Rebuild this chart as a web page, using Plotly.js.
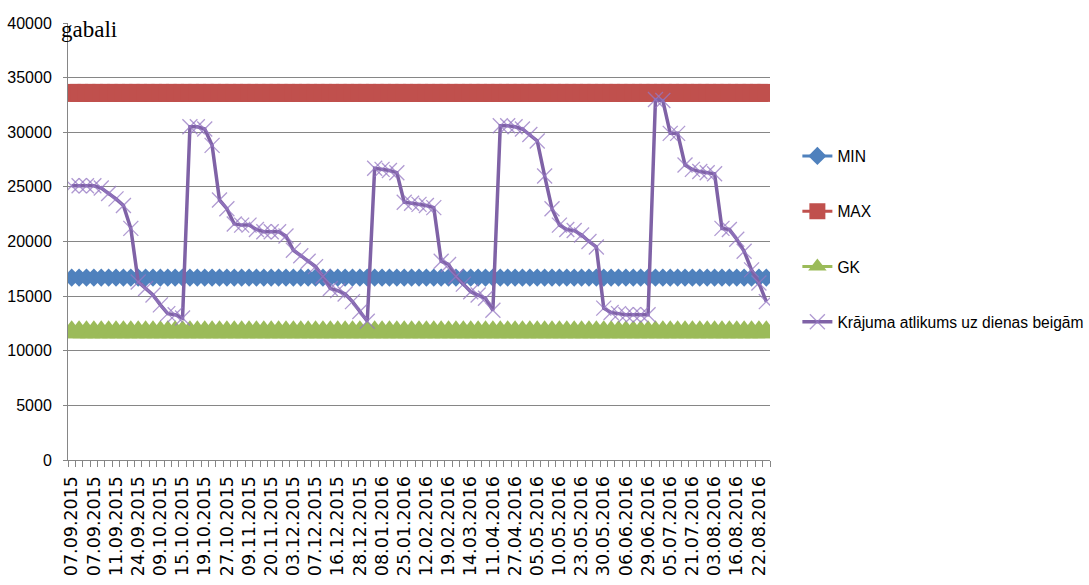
<!DOCTYPE html>
<html>
<head>
<meta charset="utf-8">
<script src="https://cdn.plot.ly/plotly-3.0.1.min.js"></script>
<style>
html,body{margin:0;padding:0;background:#fff;}
#chart{width:1089px;height:585px;}
</style>
</head>
<body>
<div id="chart"></div>
<script>
// Tick labels (every third category is labelled)
const tickLabels = [
  "07.09.2015","07.09.2015","11.09.2015","24.09.2015","09.10.2015","15.10.2015",
  "19.10.2015","27.10.2015","09.11.2015","20.11.2015","03.12.2015","07.12.2015",
  "16.12.2015","28.12.2015","08.01.2016","25.01.2016","12.02.2016","19.02.2016",
  "14.03.2016","11.04.2016","27.04.2016","05.05.2016","10.05.2016","23.05.2016",
  "30.05.2016","06.06.2016","29.06.2016","05.07.2016","21.07.2016","03.08.2016",
  "16.08.2016","22.08.2016"
];
const labelStep = 3;

// Stock at end of day (Krājuma atlikums uz dienas beigām)
const stock = [
  25100,25100,25100,25100,24900, 24400,23900,23300,21200,16300,
  15700,15100,14200,13400,13300, 13000,30500,30500,30300,28800,
  23800,23000,21600,21500,21500, 21100,20900,20900,20900,20500,
  19200,18700,18200,17700,16800, 15700,15500,15200,14500,13600,
  12700,26700,26600,26500,26300, 23600,23500,23400,23300,23100,
  18200,17900,16800,16100,15400, 15100,14800,13700,30600,30600,
  30500,30300,29800,29200,26000, 23000,21500,21100,21000,20600,
  20000,19500,13900,13500,13400, 13300,13300,13300,13300,33000,
  32900,29900,29900,27000,26600, 26400,26300,26200,21200,21100,
  20200,19100,17400,16200,14500
];
// Threshold levels
const minLevel = 16700;
const maxLevel = 33600;
const gkLevel = 11700;

const xIdx = stock.map((_, i) => i);
const minSeries = stock.map(() => minLevel);
const maxSeries = stock.map(() => maxLevel);
const gkSeries = stock.map(() => gkLevel);
const tickVals = tickLabels.map((_, k) => k * labelStep);

const legendFont = {family: "Liberation Sans, Arial, sans-serif", size: 15.6, color: "#000"};

const traces = [
  {x: xIdx, y: minSeries, name: "MIN", type: "scatter", mode: "lines+markers",
   legendgroup: "a",
   line: {color: "#4F81BD", width: 3},
   marker: {symbol: "diamond", size: 14, color: "#4F81BD", line: {width: 0}}},
  {x: xIdx, y: maxSeries, name: "MAX", type: "scatter", mode: "lines+markers",
   legendgroup: "b",
   line: {color: "#C0504D", width: 3},
   marker: {symbol: "square", size: 18, color: "#C0504D", line: {width: 0}}},
  {x: xIdx, y: gkSeries, name: "GK", type: "scatter", mode: "lines+markers",
   legendgroup: "c",
   line: {color: "#9BBB59", width: 3},
   marker: {symbol: "triangle-up", size: 24, color: "#9BBB59", line: {width: 0}}},
  {x: xIdx, y: stock, name: "Krājuma atlikums uz dienas beigām", type: "scatter", mode: "lines+markers",
   legendgroup: "d",
   line: {color: "#7F62A6", width: 3.5},
   marker: {symbol: "x-thin-open", size: 15, color: "rgba(150,120,195,0.75)", line: {width: 1.3}}}
];

const layout = {
  width: 1089, height: 585,
  paper_bgcolor: "#fff", plot_bgcolor: "#fff",
  margin: {l: 68, r: 319, t: 23, b: 125, pad: 0, autoexpand: false},
  showlegend: true,
  legend: {
    x: 1.039, xanchor: "left", xref: "paper",
    y: 0.734, yanchor: "top",
    font: legendFont,
    tracegroupgap: 32,
    itemwidth: 30,
    bgcolor: "rgba(0,0,0,0)"
  },
  xaxis: {
    range: [-0.5, stock.length - 0.5],
    tickmode: "array", tickvals: tickVals, ticktext: tickLabels,
    tickangle: -90,
    ticks: "",
    ticklabelstandoff: 8,
    minor: {ticks: "outside", ticklen: 6, tickwidth: 1, tickcolor: "#868686", tick0: -0.5, dtick: 1, showgrid: false},
    showgrid: false, zeroline: false,
    showline: true, linecolor: "#868686", linewidth: 1,
    tickfont: {family: "DejaVu Sans, sans-serif", size: 17.5, color: "#000"},
    fixedrange: true
  },
  yaxis: {
    range: [0, 40000], dtick: 5000, tick0: 0,
    tickformat: "d",
    showgrid: true, gridcolor: "#868686", gridwidth: 1,
    zeroline: false,
    showline: true, linecolor: "#868686", linewidth: 1,
    ticks: "outside", ticklen: 4, tickcolor: "#868686",
    ticklabelstandoff: 8,
    tickfont: {family: "Liberation Sans, Arial, sans-serif", size: 16, color: "#000"},
    fixedrange: true
  },
  annotations: [{
    text: "gabali", xref: "paper", yref: "paper",
    x: 0.0, y: 1.0, xanchor: "left", yanchor: "middle",
    xshift: -9, yshift: -6,
    showarrow: false,
    font: {family: "Liberation Serif, Times New Roman, serif", size: 23, color: "#000"}
  }]
};

Plotly.newPlot("chart", traces, layout, {displayModeBar: false, staticPlot: true});
</script>
</body>
</html>
